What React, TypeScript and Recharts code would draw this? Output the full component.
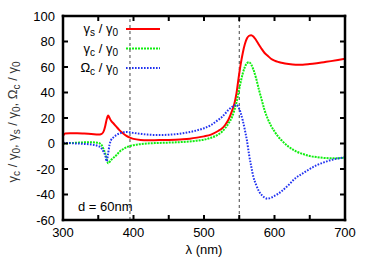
import React from 'react';
import { LineChart, Line, XAxis, YAxis, ReferenceLine, Customized } from 'recharts';

const wavelength = [300, 303, 310, 320, 330, 340, 350, 355, 358, 360, 362, 364, 366, 368, 372, 376, 380, 385, 390, 395, 400, 410, 420, 430, 440, 450, 460, 470, 480, 490, 500, 510, 520, 525, 530, 535, 540, 543, 546, 549, 552, 555, 558, 561, 564, 567, 570, 574, 578, 582, 586, 590, 595, 600, 605, 610, 620, 630, 640, 650, 660, 670, 680, 690, 700];
const gammaS = [5.8, 7.8, 8.0, 8.0, 7.8, 7.5, 7.0, 7.6, 10, 14, 19, 22, 20, 18, 15.5, 13, 10.5, 8, 6, 4.6, 3.6, 2.8, 2.6, 2.6, 2.7, 2.8, 3.0, 3.3, 3.8, 4.6, 5.6, 7.0, 9.8, 11.5, 14.5, 19, 26, 31, 39, 51, 62, 71, 78, 82.5, 84.5, 85, 84, 81, 77.5, 74, 71, 69, 66.5, 65, 64, 63.3, 62.3, 61.8, 61.8, 62.3, 63, 63.8, 64.6, 65.5, 66.5];
const gammaC = [0, 0, 0.3, 0.6, 0.9, 1.0, 0.5, -1.5, -5, -8, -12, -15.5, -14.5, -13, -11, -9, -6.5, -4.5, -3, -2, -1.3, -0.5, 0, 0.3, 0.5, 0.7, 0.9, 1.2, 1.6, 2.2, 3.0, 4.5, 7, 9, 12, 16, 21, 26, 32, 40, 48, 55, 60, 63, 63.7, 62, 58, 51, 42, 34, 26, 20, 14, 9.5, 5.5, 2.5, -2.5, -6, -8.2, -9.8, -10.7, -11.3, -11.6, -11.5, -11];
const omegaC = [0.5, 0.5, 0.3, 0, -0.3, -0.8, -2, -4, -7, -9.5, -14, -8, -1, 2.5, 5, 6.7, 7.8, 8.7, 9.1, 8.8, 8.3, 7.6, 7.0, 6.7, 6.7, 6.9, 7.3, 8.0, 9.0, 10.3, 12, 14.5, 18.5, 20.5, 23.5, 26.5, 28.7, 29.8, 30.2, 28.5, 24, 18, 10.5, 2, -9, -18, -26, -32.5, -37.5, -40.5, -42.5, -43.3, -42.5, -41, -39.5, -37.5, -32.5, -27, -23.5, -20, -17, -14.8, -13, -11.7, -10.8];

const xTicks = [300, 350, 400, 450, 500, 550, 600, 650, 700];
const xLabelStep = 100;
const yTicks = [-60, -40, -20, 0, 20, 40, 60, 80, 100];
const markerLines = [395, 550];

const data = wavelength.map((l, i) => ({ l, s: gammaS[i], c: gammaC[i], o: omegaC[i] }));

const FONT = '"Liberation Sans", Arial, Helvetica, sans-serif';
const RED = '#ff0000';
const GREEN = '#11ee11';
const BLUE = '#2233f0';
const TL = 5;

const BottomTick = (p: any) => {
  const { x, y, payload } = p;
  const v = payload.value;
  return (
    <g>
      <line x1={x} x2={x} y1={y} y2={y - TL} stroke="#000" strokeWidth={2} />
      {v % xLabelStep === 0 && (
        <text x={x} y={y + 17} textAnchor="middle" fontSize={13} fontFamily={FONT} fill="#000">{v}</text>
      )}
    </g>
  );
};
const TopTick = (p: any) => {
  const { x, y } = p;
  return <line x1={x} x2={x} y1={y} y2={y + TL} stroke="#000" strokeWidth={2} />;
};
const LeftTick = (p: any) => {
  const { x, y, payload } = p;
  return (
    <g>
      <line x1={x} x2={x + TL} y1={y} y2={y} stroke="#000" strokeWidth={2} />
      <text x={x - 8} y={y + 4.5} textAnchor="end" fontSize={13} fontFamily={FONT} fill="#000">{payload.value}</text>
    </g>
  );
};
const RightTick = (p: any) => {
  const { x, y } = p;
  return <line x1={x} x2={x - TL} y1={y} y2={y} stroke="#000" strokeWidth={2} />;
};

const Sym = ({ main, sub }: { main: string; sub: string }) => (
  <>
    <tspan>{main}</tspan>
    <tspan fontSize={10} dy={3}>{sub}</tspan>
    <tspan dy={-3}>{' / γ'}</tspan>
    <tspan fontSize={10} dy={3}>0</tspan>
    <tspan dy={-3}>{''}</tspan>
  </>
);

const legendRows = [
  { main: 'γ', sub: 's', color: RED, dash: undefined as string | undefined, y: 29 },
  { main: 'γ', sub: 'c', color: GREEN, dash: '2 1', y: 48.5 },
  { main: 'Ω', sub: 'c', color: BLUE, dash: '1.6 1.4', y: 68 },
];

const Overlay = () => (
  <g fontFamily={FONT} fontSize={13} fill="#000">
    {legendRows.map((r) => (
      <g key={r.main + r.sub + r.y}>
        <text x={118} y={r.y + 4} textAnchor="end">
          <Sym main={r.main} sub={r.sub} />
        </text>
        <line x1={126} x2={160} y1={r.y} y2={r.y} stroke={r.color} strokeWidth={2} strokeDasharray={r.dash} />
      </g>
    ))}
    <text x={78} y={211}>d = 60nm</text>
    <text x={204} y={254} textAnchor="middle">λ (nm)</text>
    <text transform="translate(17,122) rotate(-90)" textAnchor="middle" fill="#333">
      <tspan>γ</tspan><tspan fontSize={10} dy={3}>c</tspan><tspan dy={-3}>{' / γ'}</tspan><tspan fontSize={10} dy={3}>0</tspan>
      <tspan dy={-3}>{', γ'}</tspan><tspan fontSize={10} dy={3}>s</tspan><tspan dy={-3}>{' / γ'}</tspan><tspan fontSize={10} dy={3}>0</tspan>
      <tspan dy={-3}>{', Ω'}</tspan><tspan fontSize={10} dy={3}>c</tspan><tspan dy={-3}>{' / γ'}</tspan><tspan fontSize={10} dy={3}>0</tspan>
    </text>
  </g>
);

const axisLine = { stroke: '#000', strokeWidth: 2.5, strokeLinecap: 'square' as const };

export default function App() {
  return (
    <div style={{ position: 'absolute', left: 0, top: 0, background: '#fff' }}>
      <LineChart width={374} height={262} data={data} margin={{ top: 0, right: 0, bottom: 0, left: 0 }}>
        <XAxis dataKey="l" type="number" domain={[300, 700]} allowDataOverflow ticks={xTicks} interval={0}
          tickSize={0} tickMargin={0} tick={<BottomTick />} tickLine={false} axisLine={axisLine} height={42} />
        <XAxis xAxisId="top" orientation="top" dataKey="l" type="number" domain={[300, 700]} allowDataOverflow ticks={xTicks} interval={0}
          tickSize={0} tickMargin={0} tick={<TopTick />} tickLine={false} axisLine={axisLine} height={16} />
        <YAxis type="number" domain={[-60, 100]} allowDataOverflow ticks={yTicks} interval={0}
          tickSize={0} tickMargin={0} tick={<LeftTick />} tickLine={false} axisLine={axisLine} width={63} />
        <YAxis yAxisId="right" orientation="right" type="number" domain={[-60, 100]} allowDataOverflow ticks={yTicks} interval={0}
          tickSize={0} tickMargin={0} tick={<RightTick />} tickLine={false} axisLine={axisLine} width={29} />
        {markerLines.map((m) => (
          <ReferenceLine key={m} x={m} stroke="#444" strokeWidth={1} strokeDasharray="3 3" />
        ))}
        <Line dataKey="s" type="monotone" stroke={RED} strokeWidth={2} dot={false} isAnimationActive={false} />
        <Line dataKey="c" type="monotone" stroke={GREEN} strokeWidth={2} strokeDasharray="2 1" dot={false} isAnimationActive={false} />
        <Line dataKey="o" type="monotone" stroke={BLUE} strokeWidth={2} strokeDasharray="1.6 1.4" dot={false} isAnimationActive={false} />
        <Customized component={<Overlay />} />
      </LineChart>
    </div>
  );
}
